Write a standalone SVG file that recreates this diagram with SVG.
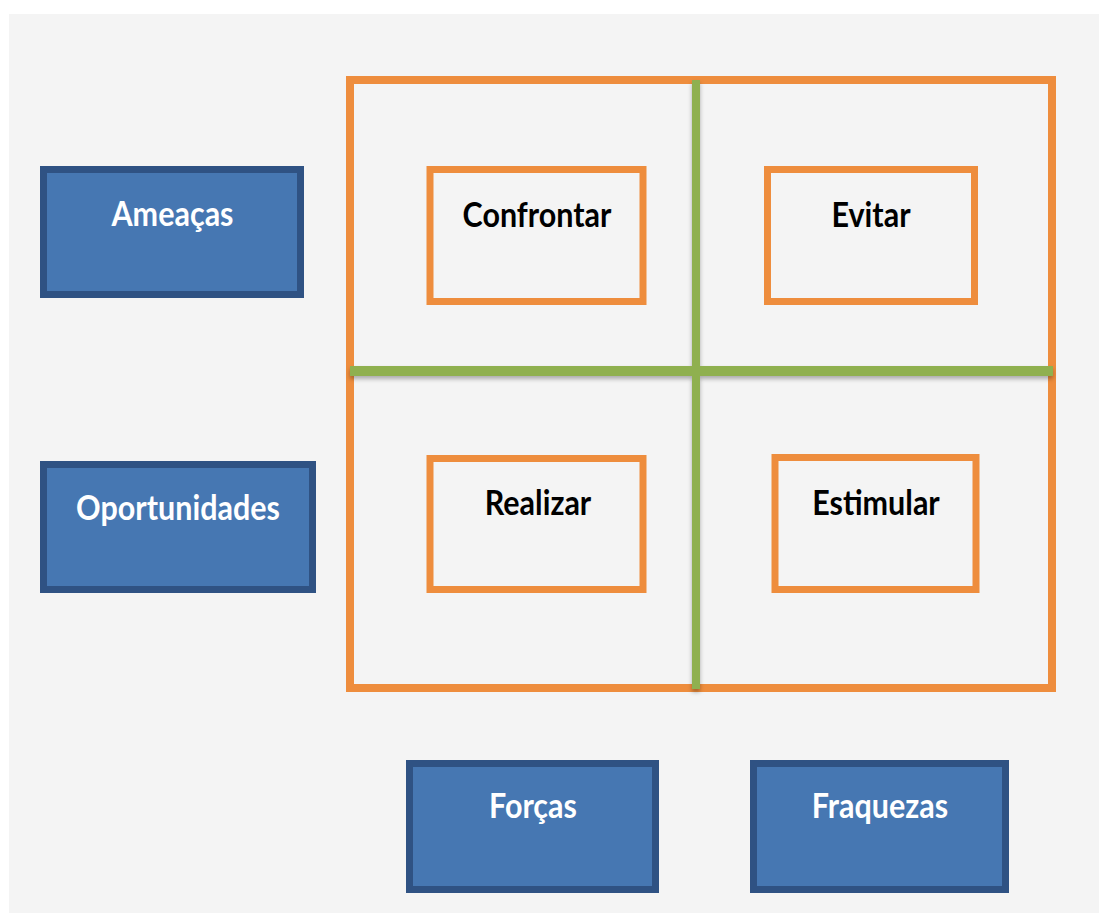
<svg xmlns="http://www.w3.org/2000/svg" width="1099" height="913" viewBox="0 0 1099 913">
<defs>
<style>
.bg{fill:#f4f4f4}
.blue rect{fill:#4677b2;stroke:#2f5283;stroke-width:7}
.blue text{fill:#ffffff}
.org rect{fill:none;stroke:#ee8d3d;stroke-width:7}
.org text{fill:#000000}
text{font-family:Lato,"Open Sans","Liberation Sans",sans-serif;font-weight:bold;font-size:30.5px;text-anchor:middle}
.grn{fill:#8fb04f}
</style>
<filter id="sh" filterUnits="userSpaceOnUse" x="0" y="0" width="1099" height="913">
<feDropShadow dx="0" dy="3" stdDeviation="2" flood-color="#000" flood-opacity="0.3"/>
</filter>
</defs>
<rect width="1099" height="913" fill="#ffffff"/>
<rect class="bg" x="9" y="14" width="1090" height="899"/>
<g id="frame">
<rect x="350" y="80" width="702" height="608" fill="none" stroke="#ee8d3d" stroke-width="8"/>
</g>
<g id="connectors" filter="url(#sh)">
<rect class="grn" x="350" y="366" width="703" height="10"/>
<rect class="grn" x="692" y="80" width="8" height="609"/>
</g>
<g id="ameacas" class="blue">
<rect x="43.5" y="169.5" width="257" height="125"/>
<text x="172.5" y="226" transform="translate(172.5 226) scale(1 1.12) translate(-172.5 -226)">Ameaças</text>
</g>
<g id="oportunidades" class="blue">
<rect x="43.5" y="464.5" width="269" height="125"/>
<text x="178" y="520" transform="translate(178 520) scale(1 1.12) translate(-178 -520)">Oportunidades</text>
</g>
<g id="forcas" class="blue">
<rect x="409.5" y="763.5" width="246" height="126"/>
<text x="533" y="818" transform="translate(533 818) scale(1 1.12) translate(-533 -818)">Forças</text>
</g>
<g id="fraquezas" class="blue">
<rect x="753.5" y="763.5" width="252" height="126"/>
<text x="880" y="818" transform="translate(880 818) scale(1 1.12) translate(-880 -818)">Fraquezas</text>
</g>
<g id="confrontar" class="org">
<rect x="430" y="169.5" width="213" height="132"/>
<text x="537" y="227" transform="translate(537 227) scale(1 1.12) translate(-537 -227)">Confrontar</text>
</g>
<g id="evitar" class="org">
<rect x="767.5" y="169.5" width="207" height="132"/>
<text x="871" y="227" transform="translate(871 227) scale(1 1.12) translate(-871 -227)">Evitar</text>
</g>
<g id="realizar" class="org">
<rect x="430" y="458.5" width="213" height="131"/>
<text x="538" y="515" transform="translate(538 515) scale(1 1.12) translate(-538 -515)">Realizar</text>
</g>
<g id="estimular" class="org">
<rect x="775" y="457.5" width="201" height="132"/>
<text x="876" y="515" transform="translate(876 515) scale(1 1.12) translate(-876 -515)">Estimular</text>
</g>
</svg>
